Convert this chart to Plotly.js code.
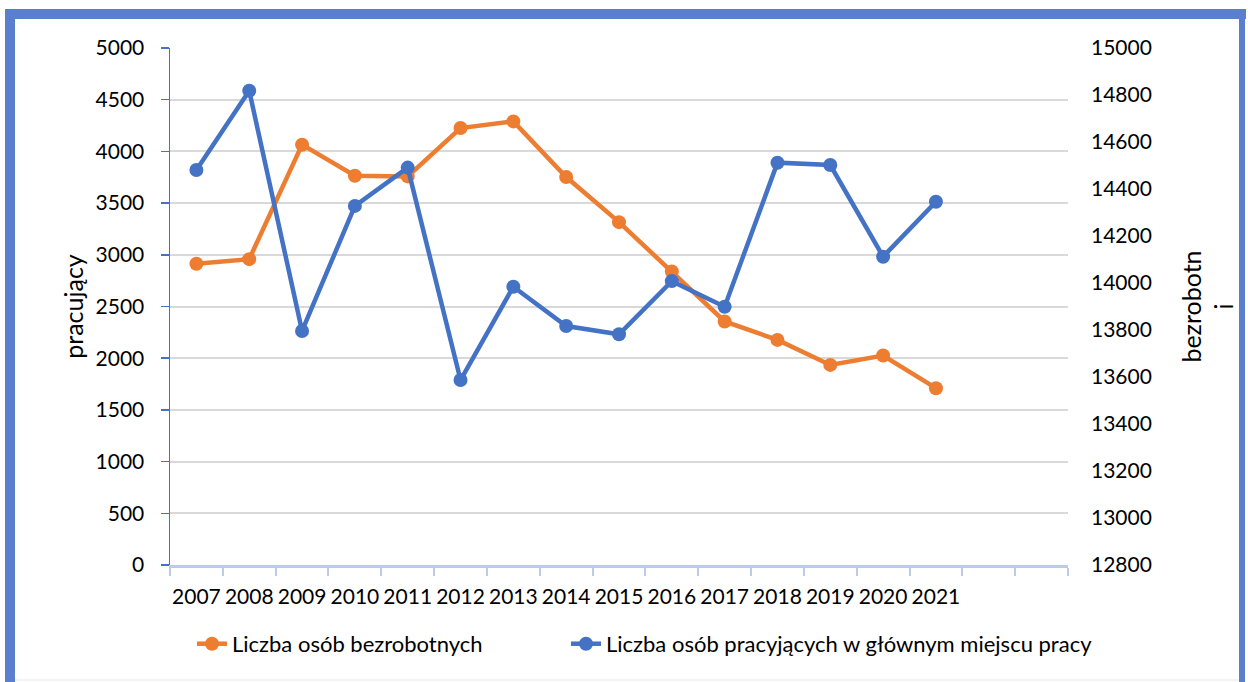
<!DOCTYPE html>
<html>
<head>
<meta charset="utf-8">
<script src="https://cdn.plot.ly/plotly-3.0.1.min.js"></script>
<style>
html,body{margin:0;padding:0;background:#fff;}
#chart{width:1248px;height:682px;}
</style>
</head>
<body>
<div id="chart"></div>
<script>
// ---- data ----
const years = ['2007','2008','2009','2010','2011','2012','2013','2014','2015','2016','2017','2018','2019','2020','2021'];
const extraSlots = [' ', '  '];
const bezrobotni = [2913, 2958, 4065, 3765, 3758, 4226, 4290, 3752, 3316, 2839, 2355, 2177, 1935, 2026, 1710];
const pracujacy = [14481, 14818, 13796, 14328, 14491, 13587, 13984, 13817, 13782, 14008, 13899, 14512, 14502, 14112, 14346];
const seriesNames = ['Liczba osób bezrobotnych', 'Liczba osób pracyjących w głównym miejscu pracy'];
const leftTicks = [0, 500, 1000, 1500, 2000, 2500, 3000, 3500, 4000, 4500, 5000];
const rightTicks = [12800, 13000, 13200, 13400, 13600, 13800, 14000, 14200, 14400, 14600, 14800, 15000];

// ---- layout helpers (pixel -> paper) ----
const L = 170, R = 1068, T = 48, B = 565;
const px = x => (x - L) / (R - L);
const py = y => (B - y) / (B - T);
const frameCol = '#5a80cd';

const FONT = 'Lato, "Liberation Sans", sans-serif';

const traces = [
  {
    x: years, y: bezrobotni, name: seriesNames[0], type: 'scatter', mode: 'lines+markers',
    line: {color: '#ED7D31', width: 4.5}, marker: {color: '#ED7D31', size: 14},
    yaxis: 'y', legend: 'legend'
  },
  {
    x: years, y: pracujacy, name: seriesNames[1], type: 'scatter', mode: 'lines+markers',
    line: {color: '#4472C4', width: 4.5}, marker: {color: '#4472C4', size: 14},
    yaxis: 'y2', legend: 'legend2'
  }
];

const legendFont = {family: FONT, size: 22, color: '#000'};

const layout = {
  width: 1248, height: 682,
  margin: {l: L, r: 1248 - R, t: T, b: 682 - B},
  paper_bgcolor: '#ffffff', plot_bgcolor: '#ffffff',
  font: {family: FONT, size: 21, color: '#000'},
  showlegend: true,
  legend: {
    orientation: 'h', x: px(192), xanchor: 'left', y: -0.112, yanchor: 'top',
    font: legendFont, bgcolor: 'rgba(0,0,0,0)'
  },
  legend2: {
    orientation: 'h', x: px(566), xanchor: 'left', y: -0.112, yanchor: 'top',
    font: legendFont, bgcolor: 'rgba(0,0,0,0)'
  },
  xaxis: {
    type: 'category',
    categoryorder: 'array', categoryarray: years.concat(extraSlots),
    range: [-0.5, years.length + extraSlots.length - 0.5],
    tickson: 'boundaries', ticks: 'outside', ticklen: 8, tickwidth: 2, tickcolor: '#bccbe8',
    showline: true, linecolor: '#bccbe8', linewidth: 3,
    showgrid: false, zeroline: false,
    tickangle: 0,
    tickfont: {family: FONT, size: 21, color: '#000'},
    ticklabelstandoff: 11,
    fixedrange: true
  },
  yaxis: {
    title: {text: 'pracujący', font: {family: FONT, size: 25, color: '#000'}, standoff: 5},
    range: [0, 5000], tickvals: leftTicks,
    ticks: 'outside', ticklen: 8, tickwidth: 1.5, tickcolor: '#4472C4',
    showline: true, linecolor: '#4472C4', linewidth: 1.5,
    showgrid: true, gridcolor: '#d9d9d9', gridwidth: 2,
    zeroline: false,
    tickfont: {family: FONT, size: 21, color: '#000'},
    ticklabelstandoff: 12,
    fixedrange: true
  },
  yaxis2: {
    title: {text: 'bezrobotn<br>i', font: {family: FONT, size: 25, color: '#000'}, standoff: 32},
    overlaying: 'y', side: 'right',
    range: [12800, 15000], tickvals: rightTicks, tickformat: 'd',
    ticks: '', showline: false, showgrid: false, zeroline: false,
    tickfont: {family: FONT, size: 21, color: '#000'},
    ticklabelstandoff: 22,
    fixedrange: true
  },
  shapes: [
    {type: 'rect', xref: 'paper', yref: 'paper', x0: px(5), x1: px(1246), y0: py(19), y1: py(9), fillcolor: frameCol, line: {width: 0}, layer: 'above'},
    {type: 'rect', xref: 'paper', yref: 'paper', x0: px(5), x1: px(15), y0: py(682), y1: py(9), fillcolor: frameCol, line: {width: 0}, layer: 'above'},
    {type: 'rect', xref: 'paper', yref: 'paper', x0: px(1239), x1: px(1245), y0: py(682), y1: py(9), fillcolor: frameCol, line: {width: 0}, layer: 'above'},
    {type: 'line', xref: 'paper', yref: 'paper', x0: px(15), x1: px(1239), y0: py(680), y1: py(680), line: {color: '#e6e6e6', width: 1}, layer: 'above'}
  ]
};

Plotly.newPlot('chart', traces, layout, {displayModeBar: false, staticPlot: true});
</script>
</body>
</html>
